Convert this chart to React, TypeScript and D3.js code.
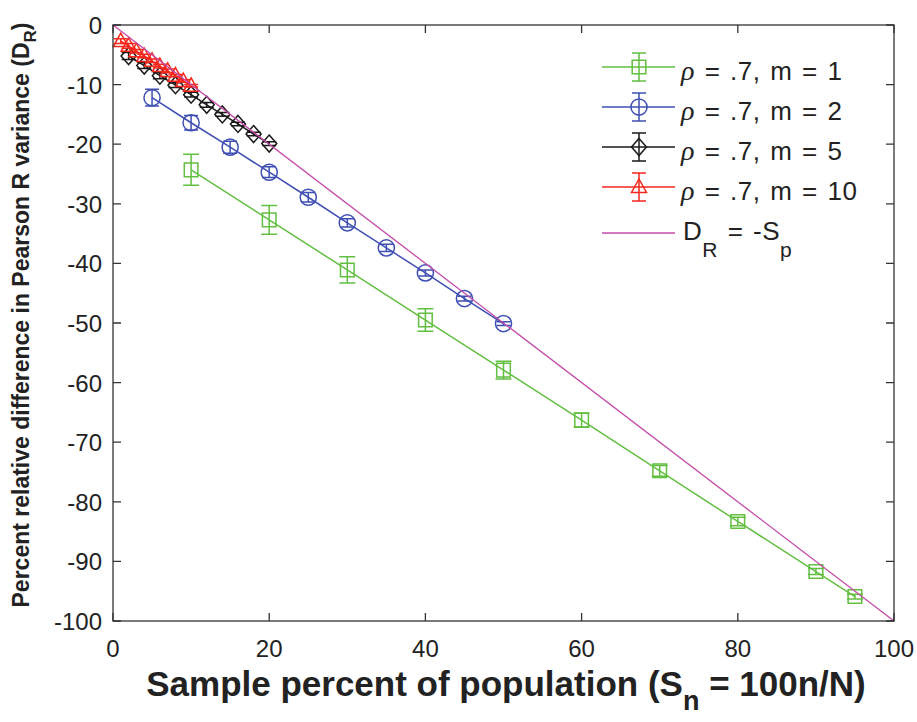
import React, { useRef, useEffect } from 'react';
import * as d3 from 'd3';

// sample percent (x), relative difference (y), error half-width (e)
const xM1 = [10, 20, 30, 40, 50, 60, 70, 80, 90, 95];
const yM1 = [-24.3, -32.7, -41.1, -49.5, -57.9, -66.3, -74.8, -83.3, -91.7, -95.9];
const eM1 = [2.6, 2.4, 2.2, 1.9, 1.5, 1.2, 0.9, 0.7, 0.5, 0.4];

const xM2 = [5, 10, 15, 20, 25, 30, 35, 40, 45, 50];
const yM2 = [-12.2, -16.4, -20.5, -24.7, -28.9, -33.2, -37.4, -41.6, -45.9, -50.1];
const eM2 = [1.4, 1.2, 1.0, 0.9, 0.8, 0.7, 0.6, 0.5, 0.4, 0.3];

const xM5 = [2, 4, 6, 8, 10, 12, 14, 16, 18, 20];
const yM5 = [-5.2, -6.8, -8.5, -10.1, -11.7, -13.4, -15.0, -16.6, -18.3, -19.9];
const eM5 = [0.6, 0.5, 0.5, 0.4, 0.4, 0.4, 0.3, 0.3, 0.3, 0.3];

const xM10 = [1, 2, 3, 4, 5, 6, 7, 8, 9, 10];
const yM10 = [-2.7, -3.5, -4.4, -5.2, -6.0, -6.9, -7.7, -8.5, -9.4, -10.2];
const eM10 = [0.4, 0.4, 0.3, 0.3, 0.3, 0.3, 0.3, 0.2, 0.2, 0.2];

const refX = [0, 100];
const refY = [0, -100];

const xTicks = [0, 20, 40, 60, 80, 100];
const yTicks = [0, -10, -20, -30, -40, -50, -60, -70, -80, -90, -100];

const seriesLabels = ['1', '2', '5', '10'];

const W = 917, H = 722;
const margin = { left: 113, right: 23, top: 25, bottom: 101 };

const App = () => {
  const svgRef = useRef<SVGSVGElement>(null);

  useEffect(() => {
    const svg = d3.select(svgRef.current);
    svg.selectAll('*').remove();

    const font = "'Liberation Sans', Arial, sans-serif";
    const x = d3.scaleLinear().domain([0, 100]).range([margin.left, W - margin.right]);
    const y = d3.scaleLinear().domain([-100, 0]).range([H - margin.bottom, margin.top]);

    svg.append('rect').attr('width', W).attr('height', H).attr('fill', '#fff');

    const series = [
      { xs: xM1, ys: yM1, es: eM1, color: '#62bf42', marker: 'square' },
      { xs: xM2, ys: yM2, es: eM2, color: '#3f4fb4', marker: 'circle' },
      { xs: xM5, ys: yM5, es: eM5, color: '#1a1a1a', marker: 'diamond' },
      { xs: xM10, ys: yM10, es: eM10, color: '#f5281e', marker: 'triangle' },
    ];

    const markerPath = (kind: string) => {
      if (kind === 'square') return d3.symbol(d3.symbolSquare, 185)();
      if (kind === 'circle') return d3.symbol(d3.symbolCircle, 205)();
      if (kind === 'triangle') return 'M0,-8L7.5,5.5L-7.5,5.5Z';
      return 'M0,-8.5L7.5,0L0,8.5L-7.5,0Z';
    };

    const line = d3.line<[number, number]>().x(d => x(d[0])).y(d => y(d[1]));
    const plot = svg.append('g');

    series.forEach(s => {
      const pts: [number, number][] = s.xs.map((v, i) => [v, s.ys[i]]);
      const g = plot.append('g').attr('stroke', s.color).attr('fill', 'none').attr('stroke-width', 1.5);
      g.append('path').attr('d', line(pts));
      // error bars
      const cap = s.marker === 'square' ? 8 : 7;
      pts.forEach((p, i) => {
        const px = x(p[0]);
        const y0 = y(p[1] - s.es[i]), y1 = y(p[1] + s.es[i]);
        g.append('path').attr('d', `M${px},${y0}L${px},${y1}M${px - cap},${y0}L${px + cap},${y0}M${px - cap},${y1}L${px + cap},${y1}`);
      });
      g.selectAll('path.mk').data(pts).join('path')
        .attr('class', 'mk')
        .attr('d', markerPath(s.marker))
        .attr('transform', d => `translate(${x(d[0])},${y(d[1])})`);
    });

    // reference line D_R = -S_p
    plot.append('path')
      .attr('d', line(refX.map((v, i) => [v, refY[i]] as [number, number])))
      .attr('stroke', '#c44aa8').attr('stroke-width', 1.3).attr('fill', 'none');

    // axes frame
    const frame = svg.append('g').attr('stroke', '#333').attr('stroke-width', 1.3).attr('fill', 'none');
    frame.append('rect')
      .attr('x', x(0)).attr('y', y(0))
      .attr('width', x(100) - x(0)).attr('height', y(-100) - y(0));
    const tl = 8;
    xTicks.forEach(t => {
      frame.append('path').attr('d', `M${x(t)},${y(-100)}v${-tl}M${x(t)},${y(0)}v${tl}`);
    });
    yTicks.forEach(t => {
      frame.append('path').attr('d', `M${x(0)},${y(t)}h${tl}M${x(100)},${y(t)}h${-tl}`);
    });

    svg.append('g').selectAll('text').data(xTicks).join('text')
      .attr('x', d => x(d)).attr('y', y(-100) + 36)
      .attr('text-anchor', 'middle')
      .style('font-family', font).style('font-size', '24px').attr('fill', '#222')
      .text(d => d);

    svg.append('g').selectAll('text').data(yTicks).join('text')
      .attr('x', x(0) - 11).attr('y', d => y(d) + 9)
      .attr('text-anchor', 'end')
      .style('font-family', font).style('font-size', '24px').attr('fill', '#222')
      .text(d => d);

    // x axis title
    const xt = svg.append('text')
      .attr('x', 506).attr('y', 696)
      .attr('text-anchor', 'middle')
      .style('font-family', font).style('font-size', '35px').style('font-weight', 'bold').attr('fill', '#222');
    xt.append('tspan').text('Sample percent of population (S');
    xt.append('tspan').attr('dy', 14).style('font-size', '27px').text('n');
    xt.append('tspan').attr('dy', -14).text(' = 100n/N)');

    // y axis title
    const yt = svg.append('text')
      .attr('transform', `translate(29,315) rotate(-90)`)
      .attr('text-anchor', 'middle')
      .style('font-family', font).style('font-size', '23px').style('font-weight', 'bold').attr('fill', '#222');
    yt.append('tspan').text('Percent relative difference in Pearson R variance (D');
    yt.append('tspan').attr('dy', 7).style('font-size', '17px').text('R');
    yt.append('tspan').attr('dy', -7).text(')');

    // legend
    const leg = svg.append('g');
    const ly = [67, 107, 147, 187];
    series.forEach((s, i) => {
      const g = leg.append('g').attr('stroke', s.color).attr('fill', 'none').attr('stroke-width', 1.5);
      const cy = ly[i];
      g.append('path').attr('d', `M602,${cy}H675`);
      g.append('path').attr('d', `M639,${cy - 14}V${cy + 14}M632,${cy - 14}H646M632,${cy + 14}H646`);
      g.append('path').attr('d', markerPath(s.marker)).attr('transform', `translate(639,${cy})`);
      const t = leg.append('text').attr('x', 681).attr('y', cy + 13)
        .style('font-family', font).style('font-size', '26px')
        .style('letter-spacing', '0.5px').style('word-spacing', '2px').attr('fill', '#222');
      t.append('tspan').style('font-style', 'italic').style('font-family', "'Liberation Serif', serif").style('font-size', '28px').text('ρ');
      t.append('tspan').text(` = .7, m = ${seriesLabels[i]}`);
    });
    leg.append('path').attr('d', 'M602,233H675').attr('stroke', '#c44aa8').attr('stroke-width', 1.5);
    const lt = leg.append('text').attr('x', 683).attr('y', 240)
      .style('font-family', font).style('font-size', '26px')
      .style('letter-spacing', '0.5px').style('word-spacing', '2px').attr('fill', '#222');
    lt.append('tspan').text('D');
    lt.append('tspan').attr('dy', 17).style('font-size', '21px').text('R');
    lt.append('tspan').attr('dy', -17).text(' = -S');
    lt.append('tspan').attr('dy', 17).style('font-size', '21px').text('p');
  }, []);

  return (
    <svg ref={svgRef} width={W} height={H}
      style={{ position: 'absolute', left: 0, top: 0, display: 'block' }} />
  );
};

export default App;
